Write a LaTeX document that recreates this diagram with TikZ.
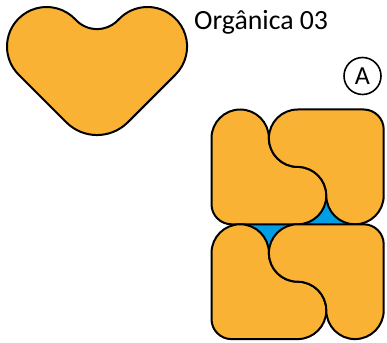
\documentclass[tikz,border=0pt]{standalone}
\usepackage{fontspec}
\setmainfont{Carlito}
\definecolor{piececol}{HTML}{F9B233}
\definecolor{gapcol}{HTML}{009FE3}
\newcommand\puzzlehalf[1]{%
  \pgfmathsetmacro\ya{#1}%
  \pgfmathsetmacro\yb{#1-28.7}%
  \pgfmathsetmacro\yc{#1-57.4}%
  \pgfmathsetmacro\yd{#1-86.1}%
  \pgfmathsetmacro\ye{#1-114.8}%
  % left L piece
  \draw[piece] (211.5,\yb) arc[start angle=180,end angle=0,radius=28.7]
    arc[start angle=180,end angle=270,radius=28.7]
    arc[start angle=90,end angle=-90,radius=28.7]
    -- (231.5,\ye) arc[start angle=270,end angle=180,radius=20]
    -- cycle;
  % right L piece
  \draw[piece] (297.6,\ya) -- (363.7,\ya) arc[start angle=90,end angle=0,radius=20]
    -- (383.7,\yd) arc[start angle=0,end angle=-180,radius=28.7]
    arc[start angle=0,end angle=90,radius=28.7]
    arc[start angle=-90,end angle=-270,radius=28.7]
    -- cycle;
}
\begin{document}
\begin{tikzpicture}[x=1pt,y=1pt,
  piece/.style={fill=piececol,draw=black,line width=2pt,line join=round}]
\useasboundingbox[fill=white] (0,0) rectangle (387,342);
% heart-like piece
\draw[piece] (75.6,322.3) arc[start angle=-137.4,end angle=-42.6,radius=29.1]
  arc[start angle=137.2,end angle=-45,radius=39.6]
  -- (127.8,219.7) arc[start angle=-45,end angle=-135,radius=43.5]
  -- (18.6,267.4) arc[start angle=-135,end angle=-317.2,radius=39.6]
  -- cycle;
\node[anchor=base west,inner sep=0pt,font=\fontsize{27.8}{30}\selectfont] (title) at (194,312) {Orgânica 03};
\node[circle,draw,line width=1.6pt,minimum size=37pt,inner sep=0pt,font=\fontsize{26}{28}\selectfont] (labelA) at (362.5,266) {A};
% blue gaps
\fill[gapcol] (297.6,117.7) arc[start angle=-90,end angle=0,radius=28.7]
  arc[start angle=180,end angle=270,radius=28.7] -- cycle;
\fill[gapcol] (240.2,117.7) arc[start angle=90,end angle=0,radius=28.7]
  arc[start angle=180,end angle=90,radius=28.7] -- cycle;
% two halves of the square
\puzzlehalf{232.5}
\puzzlehalf{117.7}
\end{tikzpicture}
\end{document}
